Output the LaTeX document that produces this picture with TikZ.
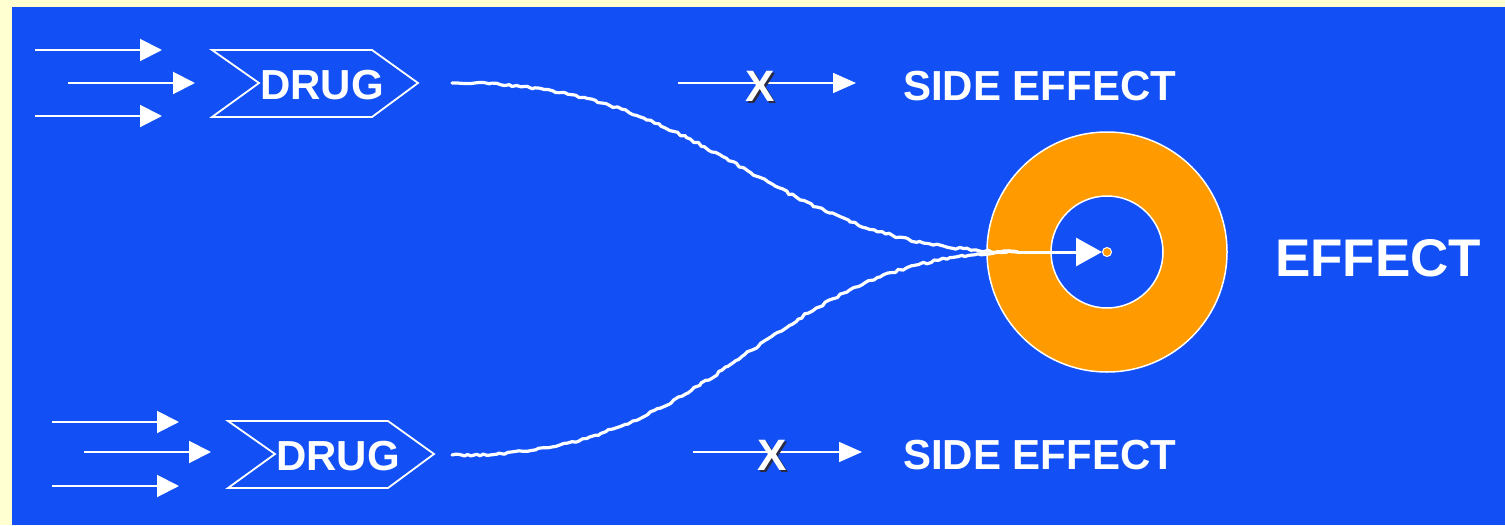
\documentclass[tikz,border=0pt]{standalone}
\usepackage{fontspec}
\setmainfont{Liberation Sans}
\usetikzlibrary{arrows.meta,positioning,decorations.pathmorphing,calc}
\definecolor{paper}{HTML}{FFFFD2}
\definecolor{slide}{HTML}{1250F5}
\definecolor{ring}{HTML}{FF9A00}
\definecolor{xshadow}{HTML}{2A2A40}
\tikzset{
  feed/.style={white,line width=2pt,-{Triangle[length=22pt,width=22pt]}},
  sidearrow/.style={white,line width=1.6pt,-{Triangle[length=23pt,width=20pt]}},
  chevron/.style={white,line width=1.8pt,line join=miter},
  wave/.style={white,line width=3.2pt,line cap=round,line join=round,
    decorate,decoration={random steps,segment length=4pt,amplitude=1.2pt}},
  label/.style={text=white,inner sep=0pt,font=\fontsize{42}{42}\selectfont\bfseries},
  cross/.style={inner sep=0pt,font=\fontsize{44}{44}\selectfont\bfseries},
}
\pgfmathsetseed{11}
\begin{document}
\begin{tikzpicture}[x=1pt,y=-1pt]
  \useasboundingbox (0,0) rectangle (1505,525);
  \fill[paper] (0,0) rectangle (1505,525);
  \fill[slide] (12,7) rectangle (1505,525);
  % drugs
  \node[label] (drugA) at (322,85) {DRUG};
  \node[label] (drugB) at (338,456) {DRUG};
  \coordinate (chevA) at (212,50);
  \coordinate (chevB) at (228,421);
  \foreach \c in {chevA,chevB} {
    \draw[chevron] (\c) -- ++(160,0) -- ++(46,33) -- ++(-46,34) -- ++(-160,0) -- ++(47,-34) -- cycle;
  }
  % incoming arrows
  \foreach \i/\x/\y in {1/35/50, 2/68/83, 3/35/116} {
    \coordinate (inA\i) at (\x,\y);
    \draw[feed] (inA\i) -- ++(127,0);
  }
  \foreach \i/\x/\y in {1/52/422, 2/84/452, 3/52/486} {
    \coordinate (inB\i) at (\x,\y);
    \draw[feed] (inB\i) -- ++(127,0);
  }
  % target
  \node[circle,draw=white,line width=1.5pt,fill=ring,minimum size=240pt] (target) at (1107,252) {};
  \node[circle,draw=white,line width=1.5pt,fill=slide,minimum size=112pt] (bull) at (target) {};
  \node[circle,draw=white,line width=1pt,fill=ring,inner sep=0pt,minimum size=9pt] (dot) at (target) {};
  \node[label,font=\fontsize{53}{53}\selectfont\bfseries,anchor=west] (effect) at (1275,258) {EFFECT};
  % drug paths
  \coordinate (outA) at (452,83);
  \coordinate (outB) at (452,455);
  \coordinate (merge) at (1017,252);
  \draw[wave] (outA) .. controls (720,80) and (760,250) .. (merge);
  \draw[wave] (outB) .. controls (730,460) and (760,255) .. (merge);
  \draw[white,line width=3pt,-{Triangle[length=26pt,width=28pt]}] (merge) -- (dot);
  % side effects
  \node[label,anchor=west] (sideA) at (903,86) {SIDE EFFECT};
  \node[label,anchor=west] (sideB) at (903,455) {SIDE EFFECT};
  \coordinate (fromA) at (678,83);
  \coordinate (fromB) at (693,452);
  \draw[sidearrow,shorten >=47pt] (fromA) -- (fromA -| sideA.west);
  \draw[sidearrow,shorten >=41pt] (fromB) -- (fromB -| sideB.west);
  \foreach \n/\x/\y in {blockA/760/86, blockB/772/455} {
    \node[cross,text=xshadow] at (\x+2.5,\y+2.5) {X};
    \node[cross,text=white] (\n) at (\x,\y) {X};
  }
\end{tikzpicture}
\end{document}
